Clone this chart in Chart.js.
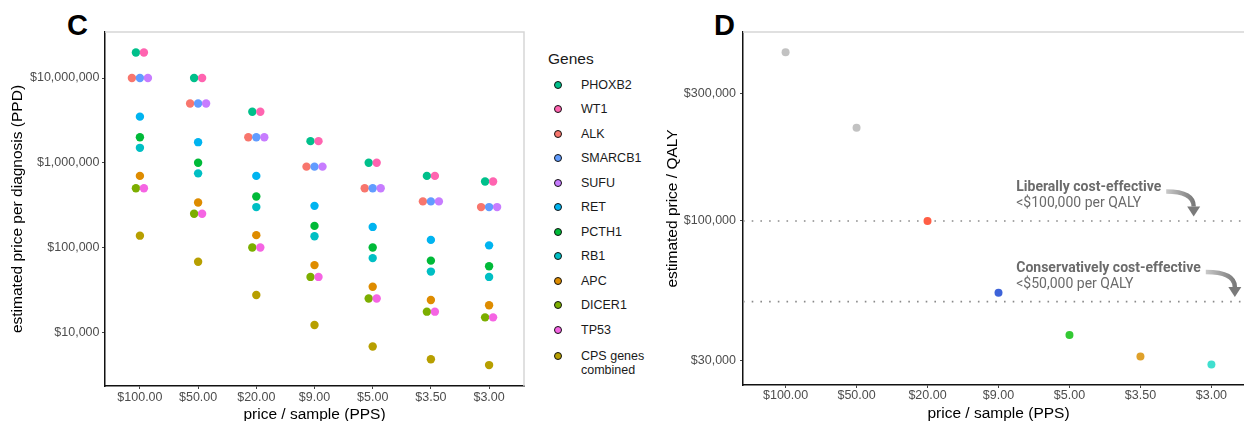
<!DOCTYPE html>
<html>
<head>
<meta charset="utf-8">
<script src="https://cdn.jsdelivr.net/npm/chart.js@4.4.1/dist/chart.umd.min.js"></script>
<style>
  html, body { margin: 0; padding: 0; background: #fff; overflow: hidden; }
  #page { position: relative; width: 1244px; height: 421px; overflow: hidden;
          font-family: 'Liberation Sans', Arial, sans-serif; }
  .panel-label { position: absolute; font-weight: bold; font-size: 29px; line-height: 29px; color: #000; }
  #wrapC { position: absolute; left: 0; top: 0; width: 530px; height: 421px; }
  #wrapD { position: absolute; left: 660px; top: 0; width: 600px; height: 421px; }
  .leg-title { position: absolute; left: 548px; font-size: 15.5px; line-height: 16px; color: #1a1a1a; }
  .leg-dot { position: absolute; width: 6px; height: 6px; border: 1px solid #111; border-radius: 50%; }
  .leg-text { position: absolute; left: 581px; font-size: 12.5px; line-height: 14px; color: #1a1a1a; white-space: pre; }
</style>
</head>
<body>
<div id="page">
  <div class="panel-label" style="left:67px; top:11px;">C</div>
  <div class="panel-label" style="left:714px; top:11px;">D</div>
  <div id="wrapC"><canvas id="chartC" width="530" height="421"></canvas></div>
  <div id="wrapD"><canvas id="chartD" width="600" height="421"></canvas></div>
  <div id="legend"></div>
</div>
<script>
// price per sample (x categories, shared by both panels)
const prices = [100, 50, 20, 9, 5, 3.5, 3];

// panel C: estimated price per diagnosis, one array per gene
const phoxb2 = [2e7, 1e7, 4e6, 1.8e6, 1e6, 7e5, 6e5];
const wt1 = [2e7, 1e7, 4e6, 1.8e6, 1e6, 7e5, 6e5];
const alk = [1e7, 5e6, 2e6, 9e5, 5e5, 3.5e5, 3e5];
const smarcb1 = [1e7, 5e6, 2e6, 9e5, 5e5, 3.5e5, 3e5];
const sufu = [1e7, 5e6, 2e6, 9e5, 5e5, 3.5e5, 3e5];
const ret = [3.5e6, 1.75e6, 7e5, 3.1e5, 1.75e5, 1.23e5, 1.06e5];
const pcth1 = [2e6, 1e6, 4e5, 1.8e5, 1e5, 7e4, 6e4];
const rb1 = [1.5e6, 7.5e5, 3e5, 1.36e5, 7.5e4, 5.2e4, 4.5e4];
const apc = [7e5, 3.4e5, 1.4e5, 6.2e4, 3.45e4, 2.4e4, 2.08e4];
const dicer1 = [5e5, 2.5e5, 1e5, 4.5e4, 2.5e4, 1.75e4, 1.5e4];
const tp53 = [5e5, 2.5e5, 1e5, 4.5e4, 2.5e4, 1.75e4, 1.5e4];
const cpsCombined = [1.38e5, 6.8e4, 2.75e4, 1.22e4, 6.8e3, 4.8e3, 4.1e3];

const geneNames = ['PHOXB2', 'WT1', 'ALK', 'SMARCB1', 'SUFU', 'RET', 'PCTH1', 'RB1', 'APC', 'DICER1', 'TP53', 'CPS genes\ncombined'];
const geneValues = [phoxb2, wt1, alk, smarcb1, sufu, ret, pcth1, rb1, apc, dicer1, tp53, cpsCombined];
const cTicks = [1e4, 1e5, 1e6, 1e7];

// panel D: estimated price per QALY
const qalyPrice = [4.27e5, 2.23e5, 1e5, 5.4e4, 3.75e4, 3.12e4, 2.91e4];
const thresholds = [1e5, 5e4];
const thresholdTitles = ['Liberally cost-effective', 'Conservatively cost-effective'];
const thresholdNotes = ['<$100,000 per QALY', '<$50,000 per QALY'];
const dTicks = [3e4, 1e5, 3e5];

// styles
const geneColors = ['#00C08B', '#FF64B0', '#F8766D', '#619CFF', '#C77CFF', '#00B4F0',
                    '#00BA38', '#00BFC4', '#DE8C00', '#7CAE00', '#F564E3', '#B79F00'];
const qalyColors = ['#C2C2C2', '#C2C2C2', '#FF5E45', '#3D63D9', '#33C933', '#DFA12B', '#40DFCF'];
// horizontal dodge slot for overlapping genes
const dodgeSlot = [-0.5, 0.5, -1, 0, 1, 0, 0, 0, 0, -0.5, 0.5, 0];
const DODGE = 0.1375;

const FONT = "'Liberation Sans', Arial, sans-serif";
const fmtMoney = v => '$' + Number(v).toLocaleString('en-US');
const fmtPrice = i => '$' + prices[i].toFixed(2);

// light grey top/right panel border
const panelBorder = {
    id: 'panelBorder',
    beforeDatasetsDraw(chart) {
        const { ctx, chartArea: a } = chart;
        ctx.save();
        ctx.strokeStyle = '#d6d6d6';
        ctx.lineWidth = 1.5;
        ctx.beginPath();
        ctx.moveTo(a.left, a.top);
        ctx.lineTo(a.right, a.top);
        ctx.lineTo(a.right, a.bottom);
        ctx.stroke();
        ctx.restore();
    }
};

function xAxis(height, tickPad, titlePad) {
    return {
        type: 'linear',
        min: -0.6,
        max: prices.length - 0.4,
        afterFit: s => { s.height = height; },
        afterBuildTicks: s => { s.ticks = prices.map((p, i) => ({ value: i })); },
        ticks: {
            callback: v => fmtPrice(v),
            color: '#4d4d4d',
            font: { family: FONT, size: 12.5 },
            padding: tickPad,
            maxRotation: 0
        },
        grid: { drawOnChartArea: false, tickLength: 3, color: '#444' },
        border: { display: true, color: '#111', width: 1.5 },
        title: {
            display: true,
            text: 'price / sample (PPS)',
            color: '#000',
            font: { family: FONT, size: 15.5, lineHeight: 1 },
            padding: { top: 0, bottom: titlePad }
        }
    };
}

function yAxis(width, min, max, tickValues, title, titlePad, tickPad) {
    return {
        type: 'logarithmic',
        min: min,
        max: max,
        afterFit: s => { s.width = width; },
        afterBuildTicks: s => { s.ticks = tickValues.map(v => ({ value: v })); },
        ticks: {
            callback: v => fmtMoney(v),
            color: '#4d4d4d',
            font: { family: FONT, size: 12.5 },
            padding: tickPad
        },
        grid: { drawOnChartArea: false, tickLength: 3, color: '#444' },
        border: { display: true, color: '#111', width: 1.5 },
        title: {
            display: true,
            text: title,
            color: '#000',
            font: { family: FONT, size: 15.5, lineHeight: 1 },
            padding: { top: titlePad, bottom: 0 }
        }
    };
}

const baseOptions = {
    responsive: false,
    animation: false,
    devicePixelRatio: 1,
    plugins: { legend: { display: false }, tooltip: { enabled: false } }
};

// ---- panel C ----
new Chart(document.getElementById('chartC'), {
    type: 'scatter',
    data: {
        datasets: geneValues.map((vals, g) => ({
            label: geneNames[g],
            data: vals.map((v, i) => ({ x: i + dodgeSlot[g] * DODGE, y: v })),
            backgroundColor: geneColors[g],
            borderWidth: 0,
            pointRadius: 4.2
        })).reverse()
    },
    options: {
        ...baseOptions,
        layout: { padding: { top: 32, right: 6, left: 0, bottom: 0 } },
        scales: {
            x: xAxis(35, 1.5, -1.5),
            y: yAxis(105, 2323, 3.49e7, cTicks, 'estimated price per diagnosis (PPD)', 10.25, 2.5)
        }
    },
    plugins: [panelBorder]
});

// ---- panel D ----
function drawArrow(ctx, x0, y0, x1, y1) {
    const head = 10;
    const grad = ctx.createLinearGradient(x0, y0, x1, y0);
    grad.addColorStop(0, '#c9c9c9');
    grad.addColorStop(1, '#7a7a7a');
    ctx.save();
    ctx.strokeStyle = grad;
    ctx.lineWidth = 4.5;
    ctx.beginPath();
    ctx.moveTo(x0, y0);
    ctx.quadraticCurveTo(x1, y0, x1, y1 - head);
    ctx.stroke();
    ctx.fillStyle = '#7a7a7a';
    ctx.beginPath();
    ctx.moveTo(x1 - 6.5, y1 - head);
    ctx.lineTo(x1 + 6.5, y1 - head);
    ctx.lineTo(x1, y1);
    ctx.closePath();
    ctx.fill();
    ctx.restore();
}

const annotate = {
    id: 'annotate',
    afterDatasetsDraw(chart) {
        const { ctx, scales: { x, y } } = chart;
        const arrowTip = [5.75, 6.33];
        thresholds.forEach((t, k) => {
            const ly = y.getPixelForValue(t);
            const tx = x.getPixelForValue(3.25);
            ctx.save();
            ctx.fillStyle = '#6b6b6b';
            ctx.textBaseline = 'middle';
            ctx.font = "bold 14px Roboto, 'Liberation Sans', sans-serif";
            ctx.fillText(thresholdTitles[k], tx, ly - 33.5);
            const w = ctx.measureText(thresholdTitles[k]).width;
            ctx.font = "14px Roboto, 'Liberation Sans', sans-serif";
            ctx.fillText(thresholdNotes[k], tx, ly - 17.5);
            ctx.restore();
            drawArrow(ctx, tx + w + 5, ly - 29.5, x.getPixelForValue(arrowTip[k]), ly - 4.5);
        });
    }
};

new Chart(document.getElementById('chartD'), {
    type: 'scatter',
    data: {
        datasets: [{
            data: qalyPrice.map((v, i) => ({ x: i, y: v })),
            backgroundColor: qalyColors,
            borderWidth: 0,
            pointRadius: 4
        }].concat(thresholds.map(t => ({
            data: [{ x: -0.6, y: t }, { x: prices.length - 0.4, y: t }],
            showLine: true,
            borderColor: '#8a8a8a',
            borderWidth: 1.6,
            borderDash: [1.6, 7.1],
            pointRadius: 0
        })))
    },
    options: {
        ...baseOptions,
        layout: { padding: { top: 32, right: 6, left: 0, bottom: 0 } },
        scales: {
            x: xAxis(36, 0.5, 0),
            y: yAxis(83, 2.44e4, 5.08e5, dTicks, 'estimated price / QALY', 5.25, 4)
        }
    },
    plugins: [panelBorder, annotate]
});

// ---- legend (panel C) ----
const legend = document.getElementById('legend');
const title = document.createElement('div');
title.className = 'leg-title';
title.style.top = (58.5 - 8) + 'px';
title.textContent = 'Genes';
legend.appendChild(title);
geneNames.forEach((name, g) => {
    const cy = g < 11 ? 84.5 + g * 24.5 : 356;
    const dot = document.createElement('div');
    dot.className = 'leg-dot';
    dot.style.left = (558.3 - 4) + 'px';
    dot.style.top = (cy - 4) + 'px';
    dot.style.background = geneColors[g];
    legend.appendChild(dot);
    const txt = document.createElement('div');
    txt.className = 'leg-text';
    txt.style.top = (cy - 7) + 'px';
    txt.textContent = name;
    legend.appendChild(txt);
});
</script>
</body>
</html>
